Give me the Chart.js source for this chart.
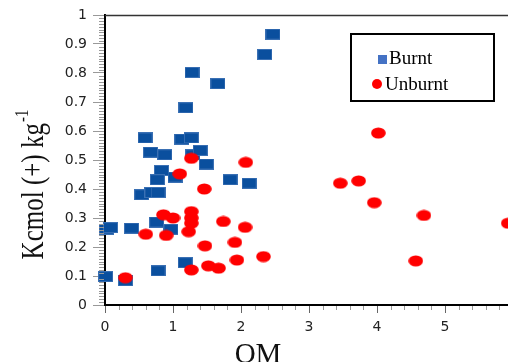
<!DOCTYPE html>
<html>
<head>
<meta charset="utf-8">
<script src="https://cdn.jsdelivr.net/npm/chart.js@4/dist/chart.umd.min.js"></script>
<style>
  html, body { margin: 0; padding: 0; overflow: hidden; background: #fff; }
  #wrap { position: absolute; left: 0; top: 0; width: 530px; height: 362px; }
</style>
</head>
<body>
<div id="wrap"><canvas id="omChart" width="530" height="362"></canvas></div>
<script>
// values
const burntX = [2.47, 2.35, 1.28, 1.66, 1.19, 0.59, 1.13, 1.27, 0.67, 0.88, 1.29, 1.40, 1.49, 0.83, 1.03,
                0.77, 1.84, 2.12, 0.54, 0.69, 0.78, 0.02, 0.08, 0.39, 0.76, 0.97, 1.18, 0.78, 0.01, 0.30];
const burntY = [0.934, 0.864, 0.802, 0.763, 0.680, 0.576, 0.572, 0.576, 0.527, 0.518, 0.518, 0.533, 0.486, 0.464, 0.441,
                0.432, 0.432, 0.420, 0.380, 0.388, 0.388, 0.262, 0.267, 0.265, 0.286, 0.261, 0.146, 0.118, 0.098, 0.084];

const unburntX = [0.30, 1.27, 1.52, 1.67, 1.94, 2.33, 1.47, 1.91, 0.60, 0.90, 1.23, 1.74, 2.06, 0.86, 1.00,
                  1.27, 1.27, 1.27, 1.27, 1.10, 1.46, 2.07, 3.46, 3.73, 3.96, 4.69, 4.57, 5.93, 4.02];
const unburntY = [0.094, 0.121, 0.135, 0.127, 0.155, 0.167, 0.204, 0.216, 0.244, 0.240, 0.253, 0.288, 0.268, 0.311, 0.300,
                  0.322, 0.300, 0.282, 0.506, 0.452, 0.400, 0.492, 0.420, 0.428, 0.353, 0.309, 0.152, 0.282, 0.593];

const seriesNames = ['Burnt', 'Unburnt'];
const xTicks = [0, 1, 2, 3, 4, 5, 6];
const yTicks = [0, 0.1, 0.2, 0.3, 0.4, 0.5, 0.6, 0.7, 0.8, 0.9, 1];

function toPoints(xs, ys) {
    return xs.map((x, i) => ({ x: x, y: ys[i] }));
}

// marker images (the squares and dots are a bit wider than tall)
function squareMarker() {
    const c = document.createElement('canvas');
    c.width = 15; c.height = 11;
    const g = c.getContext('2d');
    g.fillStyle = '#3a70b4';
    g.fillRect(0, 0, 15, 11);
    g.fillStyle = '#0a4f9e';
    g.fillRect(1, 1, 13, 9);
    return c;
}
function dotMarker() {
    const c = document.createElement('canvas');
    c.width = 15; c.height = 12;
    const g = c.getContext('2d');
    g.fillStyle = '#ff0000';
    g.beginPath();
    g.ellipse(7.5, 6, 7.3, 5.6, 0, 0, Math.PI * 2);
    g.fill();
    return c;
}

// extra drawing: minor ticks, top frame, axis titles, boxed legend
const decorPlugin = {
    id: 'decor',
    afterDraw(chart) {
        const ctx = chart.ctx;
        const area = chart.chartArea;
        const xs = chart.scales.x, ys = chart.scales.y;
        ctx.save();

        // minor ticks
        ctx.strokeStyle = '#999';
        ctx.lineWidth = 1;
        ctx.beginPath();
        for (let i = 1; i < 100; i++) {
            if (i % 10 === 0) continue;
            const py = Math.round(ys.getPixelForValue(i / 100)) + 0.5;
            ctx.moveTo(area.left - 6, py);
            ctx.lineTo(area.left - 1, py);
        }
        for (let i = 1; i < 30; i++) {
            if (i % 5 === 0) continue;
            const px = Math.round(xs.getPixelForValue(i / 5)) + 0.5;
            ctx.moveTo(px, area.bottom + 1);
            ctx.lineTo(px, area.bottom + 5);
        }
        ctx.stroke();

        // top frame line
        ctx.strokeStyle = '#333';
        ctx.lineWidth = 1.5;
        ctx.beginPath();
        ctx.moveTo(area.left, area.top + 0.5);
        ctx.lineTo(chart.width, area.top + 0.5);
        ctx.stroke();

        // y title with superscript
        ctx.fillStyle = '#111';
        ctx.translate(33, 185);
        ctx.rotate(-Math.PI / 2);
        ctx.scale(1, 1.3);
        const main = 'Kcmol (+) kg';
        ctx.font = '25px "Liberation Serif"';
        const mw = ctx.measureText(main).width;
        ctx.font = '15px "Liberation Serif"';
        const sw = ctx.measureText('-1').width;
        const start = -(mw + sw) / 2;
        ctx.textBaseline = 'alphabetic';
        ctx.textAlign = 'left';
        ctx.font = '25px "Liberation Serif"';
        ctx.fillText(main, start, 8);
        ctx.font = '15px "Liberation Serif"';
        ctx.fillText('-1', start + mw + 1, -4);
        ctx.setTransform(1, 0, 0, 1, 0, 0);

        // x title
        ctx.font = '29px "Liberation Serif"';
        ctx.textAlign = 'center';
        ctx.fillText('OM', 258, 363);

        // legend box
        ctx.strokeStyle = '#000';
        ctx.lineWidth = 2;
        ctx.strokeRect(351, 34, 143, 67);
        ctx.fillStyle = '#4472c4';
        ctx.fillRect(378, 55, 9, 9);
        ctx.fillStyle = '#ff0000';
        ctx.beginPath();
        ctx.arc(377, 84, 5, 0, Math.PI * 2);
        ctx.fill();
        ctx.fillStyle = '#000';
        ctx.textAlign = 'left';
        ctx.font = '19px "Liberation Serif"';
        ctx.fillText(seriesNames[0], 389, 64);
        ctx.fillText(seriesNames[1], 385, 90);

        ctx.restore();
    }
};

const chart = new Chart(document.getElementById('omChart').getContext('2d'), {
    type: 'scatter',
    data: {
        datasets: [
            {
                label: seriesNames[0],
                data: toPoints(burntX, burntY),
                pointStyle: squareMarker(),
                clip: false,
                order: 1
            },
            {
                label: seriesNames[1],
                data: toPoints(unburntX, unburntY),
                pointStyle: dotMarker(),
                clip: false,
                order: 0
            }
        ]
    },
    options: {
        responsive: false,
        animation: false,
        devicePixelRatio: 1,
        layout: { padding: { top: 15, right: 17, left: 0, bottom: 0 } },
        plugins: {
            legend: { display: false },
            tooltip: { enabled: false }
        },
        scales: {
            x: {
                type: 'linear',
                min: xTicks[0],
                max: xTicks[xTicks.length - 1],
                afterBuildTicks: (s) => { s.ticks = xTicks.map(v => ({ value: v })); },
                afterFit: (s) => { s.height = 57; },
                grid: { drawOnChartArea: false, tickLength: 8, tickColor: '#666', tickWidth: 1 },
                border: { display: true, color: '#000', width: 2 },
                ticks: { padding: 6, color: '#222', font: { family: 'DejaVu Sans', size: 14 } }
            },
            y: {
                min: yTicks[0],
                max: yTicks[yTicks.length - 1],
                afterBuildTicks: (s) => { s.ticks = yTicks.map(v => ({ value: v })); },
                afterFit: (s) => { s.width = 105; },
                grid: { drawOnChartArea: false, tickLength: 12, tickColor: '#999', tickWidth: 1 },
                border: { display: true, color: '#000', width: 2 },
                ticks: {
                    padding: 6,
                    color: '#222',
                    font: { family: 'DejaVu Sans', size: 14 },
                    callback: (v) => (v === 0 || v === 1) ? String(v) : v.toFixed(1)
                }
            }
        }
    },
    plugins: [decorPlugin]
});
</script>
</body>
</html>
